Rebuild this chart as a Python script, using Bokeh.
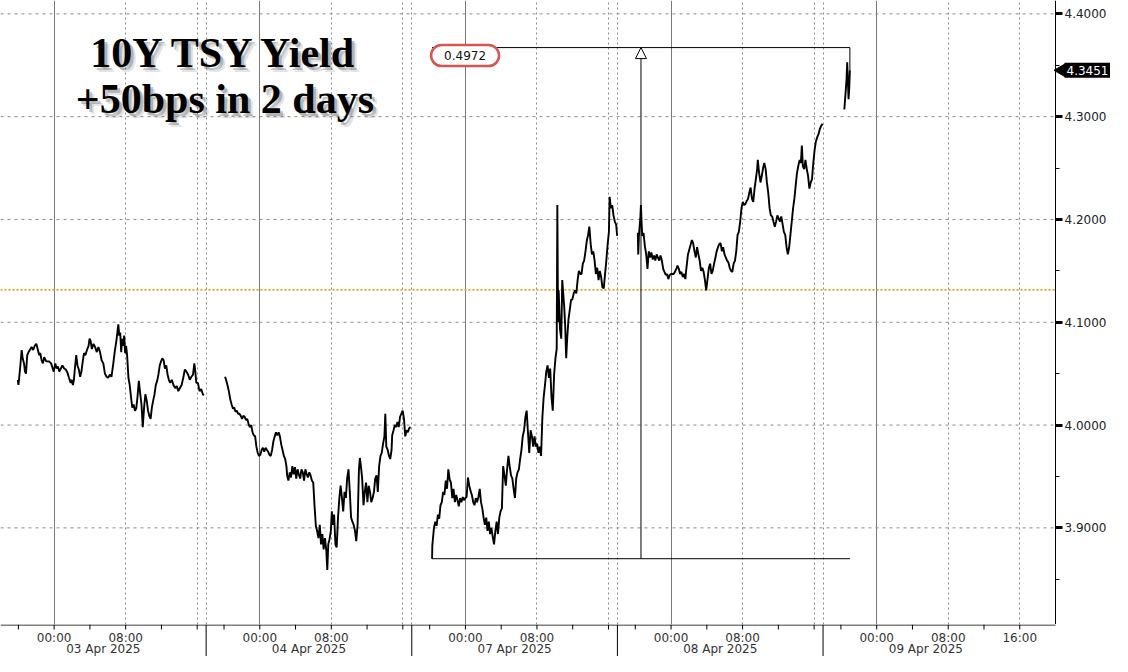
import math
from bokeh.plotting import figure
from bokeh.models import (Range1d, FixedTicker, PrintfTickFormatter, Grid, Label, Arrow, NormalHead)
from bokeh.layouts import column
from bokeh.embed import file_html
from bokeh.resources import INLINE
from bokeh.core.properties import value

# ---------------- data ----------------
session_dates = ["03 Apr 2025", "04 Apr 2025", "07 Apr 2025", "08 Apr 2025", "09 Apr 2025"]
session_len = 23          # each session: 18:00 (prior day) -> 17:00
tick_clock = ["00:00", "08:00", "16:00"]
tick_offset = [6, 14, 22]  # hours after the 18:00 open
x_end = 118.0              # hours of session-time shown

# (hours after session open, yield %)
s_0403 = [(1.93,4.044),(2.01,4.039),(2.19,4.055),(2.37,4.073),(2.48,4.065),(2.63,4.060),(2.74,4.052),(2.85,4.050),(2.99,4.068),(3.14,4.071),(3.28,4.073),(3.47,4.076),(3.65,4.073),(3.83,4.077),(4.01,4.079),(4.16,4.074),(4.31,4.068),(4.45,4.070),(4.60,4.063),(4.74,4.060),(4.89,4.066),(5.11,4.062),(5.40,4.062),(5.66,4.060),(5.84,4.055),(5.95,4.052),(6.13,4.060),(6.28,4.055),(6.42,4.057),(6.57,4.052),(6.75,4.055),(6.93,4.058),(7.12,4.055),(7.30,4.054),(7.48,4.051),(7.66,4.046),(7.85,4.041),(7.96,4.044),(8.10,4.039),(8.21,4.044),(8.32,4.055),(8.47,4.068),(8.61,4.058),(8.76,4.054),(8.91,4.047),(9.05,4.052),(9.20,4.062),(9.34,4.070),(9.49,4.068),(9.67,4.073),(9.85,4.077),(9.96,4.084),(10.07,4.082),(10.22,4.074),(10.40,4.079),(10.58,4.076),(10.77,4.071),(10.95,4.076),(11.13,4.071),(11.31,4.063),(11.50,4.060),(11.68,4.050),(11.86,4.047),(12.04,4.046),(12.23,4.049),(12.41,4.047),(12.59,4.058),(12.77,4.071),(12.96,4.082),(13.07,4.090),(13.18,4.098),(13.28,4.087),(13.39,4.090),(13.50,4.071),(13.61,4.084),(13.72,4.077),(13.83,4.087),(13.94,4.070),(14.05,4.077),(14.16,4.068),(14.31,4.046),(14.45,4.039),(14.60,4.027),(14.74,4.017),(14.89,4.020),(15.04,4.014),(15.18,4.016),(15.33,4.028),(15.47,4.043),(15.62,4.031),(15.77,4.020),(15.91,3.998),(16.06,4.017),(16.20,4.030),(16.35,4.024),(16.50,4.014),(16.64,4.009),(16.79,4.006),(16.93,4.017),(17.08,4.024),(17.23,4.030),(17.37,4.039),(17.52,4.043),(17.66,4.049),(17.81,4.058),(17.96,4.062),(18.10,4.065),(18.25,4.063),(18.39,4.055),(18.54,4.058),(18.69,4.049),(18.83,4.044),(18.98,4.041),(19.16,4.044),(19.34,4.039),(19.53,4.036),(19.71,4.038),(19.89,4.033),(20.07,4.036),(20.26,4.039),(20.44,4.046),(20.62,4.054),(20.80,4.052),(20.99,4.049),(21.17,4.044),(21.35,4.047),(21.53,4.049),(21.68,4.060),(21.79,4.052),(21.90,4.041),(22.08,4.041),(22.26,4.033),(22.45,4.035),(22.63,4.030),(22.74,4.029)]

s_0404 = [(2.12,4.047),(2.26,4.043),(2.41,4.038),(2.56,4.032),(2.70,4.025),(2.85,4.020),(3.00,4.016),(3.14,4.017),(3.29,4.013),(3.43,4.014),(3.58,4.011),(3.72,4.011),(3.87,4.009),(4.02,4.006),(4.16,4.009),(4.31,4.008),(4.45,4.005),(4.60,4.006),(4.75,4.001),(4.89,3.998),(5.04,4.000),(5.19,3.993),(5.33,3.990),(5.48,3.989),(5.62,3.979),(5.77,3.973),(5.92,3.970),(6.06,3.971),(6.21,3.976),(6.35,3.978),(6.50,3.974),(6.65,3.978),(6.79,3.976),(6.94,3.974),(7.08,3.971),(7.23,3.970),(7.38,3.976),(7.52,3.984),(7.67,3.989),(7.81,3.993),(7.96,3.990),(8.11,3.993),(8.25,3.989),(8.40,3.981),(8.54,3.976),(8.69,3.970),(8.84,3.967),(8.98,3.960),(9.06,3.951),(9.20,3.946),(9.35,3.954),(9.49,3.949),(9.64,3.960),(9.79,3.952),(9.93,3.959),(10.08,3.948),(10.22,3.957),(10.37,3.952),(10.52,3.948),(10.66,3.957),(10.81,3.954),(10.95,3.946),(11.10,3.957),(11.25,3.952),(11.39,3.949),(11.54,3.954),(11.68,3.951),(11.83,3.946),(11.98,3.944),(12.12,3.922),(12.27,3.902),(12.41,3.897),(12.56,3.890),(12.71,3.903),(12.85,3.884),(13.00,3.894),(13.14,3.879),(13.29,3.890),(13.44,3.878),(13.55,3.859),(13.66,3.884),(13.80,3.889),(13.95,3.897),(14.06,3.916),(14.17,3.903),(14.31,3.913),(14.46,3.884),(14.60,3.881),(14.75,3.910),(14.90,3.929),(15.04,3.941),(15.19,3.929),(15.33,3.916),(15.48,3.935),(15.63,3.929),(15.77,3.948),(15.92,3.957),(16.07,3.935),(16.21,3.910),(16.36,3.906),(16.50,3.903),(16.65,3.897),(16.79,3.887),(16.94,3.903),(17.09,3.957),(17.20,3.968),(17.31,3.960),(17.45,3.948),(17.60,3.922),(17.74,3.935),(17.89,3.944),(18.04,3.925),(18.18,3.941),(18.33,3.935),(18.47,3.925),(18.62,3.929),(18.77,3.935),(18.91,3.948),(19.06,3.951),(19.20,3.935),(19.35,3.960),(19.50,3.970),(19.64,3.973),(19.79,3.982),(19.94,3.989),(20.04,4.011),(20.15,3.979),(20.30,3.976),(20.45,3.970),(20.59,3.967),(20.74,3.976),(20.81,3.990),(20.96,3.995),(21.10,4.000),(21.25,3.998),(21.40,4.003),(21.54,3.998),(21.69,4.008),(21.83,4.011),(21.98,4.014),(22.13,4.006),(22.27,3.989),(22.42,3.995),(22.56,3.993),(22.71,3.997),(22.86,3.998)]

s_0407 = [(2.27,3.870),(2.30,3.883),(2.48,3.900),(2.63,3.906),(2.78,3.902),(2.92,3.913),(3.07,3.909),(3.21,3.922),(3.36,3.925),(3.51,3.935),(3.65,3.932),(3.80,3.946),(3.94,3.938),(4.09,3.957),(4.24,3.947),(4.38,3.944),(4.53,3.929),(4.67,3.938),(4.82,3.925),(4.97,3.932),(5.11,3.927),(5.26,3.921),(5.40,3.929),(5.55,3.925),(5.70,3.930),(5.84,3.927),(5.99,3.929),(6.13,3.930),(6.28,3.949),(6.43,3.941),(6.57,3.936),(6.72,3.932),(6.87,3.925),(7.01,3.922),(7.16,3.929),(7.30,3.925),(7.45,3.930),(7.60,3.938),(7.74,3.925),(7.89,3.919),(8.03,3.910),(8.18,3.903),(8.33,3.910),(8.47,3.897),(8.62,3.906),(8.76,3.894),(8.91,3.900),(9.06,3.891),(9.20,3.884),(9.35,3.897),(9.49,3.906),(9.64,3.894),(9.79,3.910),(9.93,3.916),(10.08,3.919),(10.22,3.960),(10.37,3.951),(10.52,3.941),(10.66,3.957),(10.81,3.970),(10.95,3.960),(11.10,3.951),(11.25,3.948),(11.39,3.938),(11.54,3.929),(11.68,3.948),(11.83,3.954),(11.98,3.957),(12.12,3.967),(12.27,3.976),(12.41,3.989),(12.56,3.995),(12.71,4.008),(12.85,4.014),(13.00,3.992),(13.14,3.973),(13.29,3.995),(13.44,3.989),(13.58,3.979),(13.73,3.989),(13.88,3.979),(14.02,3.982),(14.17,3.973),(14.31,3.979),(14.46,3.970),(14.61,4.008),(14.75,4.027),(14.90,4.039),(15.04,4.052),(15.19,4.058),(15.34,4.046),(15.48,4.055),(15.63,4.027),(15.77,4.014),(15.92,4.049),(16.07,4.065),(16.21,4.074),(16.28,4.214),(16.36,4.100),(16.43,4.131),(16.58,4.093),(16.72,4.084),(16.83,4.141),(16.94,4.128),(17.05,4.115),(17.16,4.096),(17.27,4.065),(17.38,4.084),(17.53,4.103),(17.67,4.112),(17.82,4.122),(17.96,4.122),(18.11,4.128),(18.26,4.131),(18.40,4.128),(18.55,4.141),(18.69,4.150),(18.84,4.147),(18.99,4.147),(19.13,4.157),(19.28,4.160),(19.43,4.169),(19.57,4.179),(19.72,4.185),(19.86,4.193),(20.01,4.176),(20.15,4.166),(20.30,4.169),(20.45,4.160),(20.59,4.147),(20.74,4.153),(20.89,4.141),(21.03,4.150),(21.18,4.144),(21.32,4.134),(21.47,4.133),(21.62,4.147),(21.76,4.160),(21.91,4.176),(22.05,4.188),(22.13,4.222),(22.27,4.211),(22.42,4.214),(22.56,4.204),(22.71,4.198),(22.86,4.195),(22.97,4.184)]

s_0408 = [(2.28,4.187),(2.33,4.166),(2.41,4.185),(2.56,4.201),(2.63,4.214),(2.71,4.195),(2.78,4.184),(2.92,4.187),(3.07,4.174),(3.22,4.166),(3.36,4.152),(3.51,4.169),(3.66,4.163),(3.80,4.168),(3.95,4.161),(4.09,4.165),(4.24,4.160),(4.39,4.166),(4.53,4.163),(4.68,4.160),(4.82,4.165),(4.97,4.160),(5.12,4.152),(5.26,4.149),(5.41,4.146),(5.55,4.147),(5.70,4.142),(5.85,4.146),(5.99,4.147),(6.14,4.147),(6.28,4.147),(6.43,4.149),(6.58,4.152),(6.72,4.155),(6.87,4.152),(7.01,4.147),(7.16,4.149),(7.31,4.144),(7.45,4.147),(7.60,4.142),(7.67,4.149),(7.89,4.166),(8.11,4.173),(8.33,4.180),(8.47,4.177),(8.62,4.169),(8.77,4.163),(8.91,4.173),(9.06,4.166),(9.20,4.160),(9.35,4.150),(9.50,4.153),(9.64,4.149),(9.79,4.141),(9.93,4.131),(10.08,4.142),(10.23,4.153),(10.37,4.157),(10.52,4.147),(10.66,4.150),(10.81,4.157),(10.96,4.163),(11.10,4.169),(11.25,4.173),(11.39,4.176),(11.54,4.177),(11.69,4.169),(11.83,4.173),(11.98,4.166),(12.12,4.163),(12.27,4.160),(12.42,4.158),(12.56,4.153),(12.71,4.150),(12.85,4.149),(13.00,4.157),(13.15,4.160),(13.29,4.169),(13.44,4.185),(13.58,4.188),(13.73,4.198),(13.88,4.211),(14.02,4.217),(14.17,4.214),(14.31,4.215),(14.46,4.218),(14.61,4.220),(14.75,4.226),(14.90,4.231),(15.05,4.220),(15.19,4.217),(15.34,4.230),(15.48,4.239),(15.63,4.249),(15.70,4.258),(15.85,4.245),(16.00,4.236),(16.14,4.242),(16.29,4.250),(16.43,4.255),(16.58,4.249),(16.72,4.236),(16.87,4.226),(17.02,4.211),(17.16,4.204),(17.31,4.203),(17.45,4.198),(17.60,4.193),(17.75,4.198),(17.89,4.204),(18.04,4.201),(18.18,4.198),(18.33,4.203),(18.48,4.195),(18.62,4.188),(18.77,4.185),(18.92,4.173),(19.06,4.166),(19.21,4.173),(19.35,4.185),(19.50,4.198),(19.65,4.211),(19.79,4.220),(19.94,4.233),(20.08,4.245),(20.23,4.252),(20.38,4.258),(20.52,4.255),(20.63,4.272),(20.74,4.252),(20.89,4.249),(21.03,4.258),(21.18,4.249),(21.33,4.242),(21.47,4.230),(21.62,4.236),(21.76,4.239),(21.91,4.255),(22.06,4.268),(22.20,4.276),(22.35,4.280),(22.49,4.283),(22.64,4.288),(22.79,4.291),(22.95,4.293)]

s_0409 = [(2.38,4.307),(2.56,4.328),(2.63,4.337),(2.70,4.353),(2.78,4.334),(2.85,4.317),(2.93,4.328),(3.00,4.3451)]

sessions = [s_0403, s_0404, s_0407, s_0408, s_0409]

ref_level = 4.1315         # orange dotted reference line
measure_from = 3.8700      # measurement tool start level (07 Apr open)
measure_change = 0.4972    # measured move
y_ticks = [3.9, 4.0, 4.1, 4.2, 4.3, 4.4]
y_minor = [3.85, 3.95, 4.05, 4.15, 4.25, 4.35]
y_lo, y_hi = 3.806, 4.413

# ---------------- layout constants ----------------
FW, FH, SH = 1110, 624, 32      # frame also holds the right-hand price scale
x_view = 124.15                 # data width incl. the price-scale column
GRID = "#8a8a8a"
FONT = "DejaVu Sans"
px_per_hr = FW / x_view

# session-time positions
starts = [k * session_len for k in range(len(session_dates))]
bounds = starts[1:]
midnights = [s + tick_offset[0] for s in starts]
dashed = starts + [s + o for s in starts for o in tick_offset[1:]]
minor_x = [s + o for s in starts for o in range(2, session_len, 4)]

p = figure(frame_width=FW, frame_height=FH, x_range=Range1d(0, x_view), y_range=Range1d(y_lo, y_hi),
           x_axis_location=None, y_axis_location="right", toolbar_location=None,
           output_backend="svg", min_border_left=0, min_border_top=0, min_border_bottom=0,
           min_border_right=0, outline_line_color=None, background_fill_color="white",
           border_fill_color="white")

# right price axis, pinned at the end of the time scale
ya = p.yaxis[0]
ya.fixed_location = x_end
ya.ticker = FixedTicker(ticks=y_ticks, minor_ticks=y_minor)
ya.formatter = PrintfTickFormatter(format="%.4f")
ya.major_label_text_font = FONT
ya.major_label_text_font_size = "12px"
ya.major_label_text_color = "#222222"
ya.major_label_standoff = 2
ya.major_tick_out, ya.major_tick_in = 7, 0
ya.major_tick_line_width = 3
ya.minor_tick_out, ya.minor_tick_in = 4, 0
ya.axis_line_color = "black"

# grids
p.xgrid.ticker = FixedTicker(ticks=dashed)
p.xgrid.grid_line_color = GRID
p.xgrid.grid_line_dash = "2 3"
p.ygrid.visible = False
p.add_layout(Grid(dimension=0, ticker=FixedTicker(ticks=midnights), grid_line_color="#7a7a7a",
                  grid_line_width=1))
p.segment(x0=0, x1=x_end, y0=y_ticks, y1=y_ticks, line_color=GRID, line_dash="3 4", line_width=1)
p.segment(x0=0, x1=x_end, y0=ref_level, y1=ref_level, line_color="#E3A224",
          line_dash="2 2", line_width=1.6)

# series
for s0, data in zip(starts, sessions):
    p.line([s0 + h for h, _ in data], [v for _, v in data], line_color="black", line_width=1.9)

# measurement tool
m_left = starts[2] + s_0407[0][0]
m_right = starts[4] + s_0409[-1][0]
m_top = measure_from + measure_change
last_val = s_0409[-1][1]
p.line([m_left, m_right], [measure_from, measure_from], line_color="black", line_width=1)
p.line([m_left, m_right, m_right], [m_top, m_top, last_val], line_color="black", line_width=1)
m_mid = (m_left + m_right) / 2
p.add_layout(Arrow(end=NormalHead(size=11, fill_color="white", line_color="black", line_width=1),
                   x_start=m_mid, y_start=measure_from, x_end=m_mid, y_end=m_top,
                   line_color="black", line_width=1))
p.add_layout(Label(x=m_left, y=m_top, x_offset=33, y_offset=-8, text=f"{measure_change:.4f}",
                   text_font=FONT, text_font_size="12px", text_color="#111111",
                   text_align="center", text_baseline="middle",
                   background_fill_color="white", border_line_color="#D9534F",
                   border_line_width=2.5, border_radius=11,
                   padding=dict(left=13, right=13, top=6, bottom=6)))

# last value tag on the price scale
p.scatter(x=[x_end + 6 / px_per_hr], y=[last_val], marker="triangle", angle=math.pi / 2,
          size=13, fill_color="black", line_color="black")
p.add_layout(Label(x=x_end, y=last_val, x_offset=9, text=f"{last_val:.4f}", text_font=FONT,
                   text_font_size="12px", text_color="white", text_align="left",
                   text_baseline="middle", background_fill_color="black",
                   padding=dict(left=2, right=3, top=3, bottom=3)))

# title with soft shadow
title_lines = ["10Y TSY Yield", "+50bps in 2 days"]
title_y = [4.3624, 4.3167]
title_x = 25.1
for (dx, dy, a) in [(5, -5, 0.18), (3, -3, 0.35)]:
    for t, ty in zip(title_lines, title_y):
        p.add_layout(Label(x=title_x, y=ty, x_offset=dx, y_offset=dy, text=t,
                           text_font="Liberation Serif", text_font_style="bold",
                           text_font_size="42px", text_align="center", text_baseline="alphabetic",
                           text_color="#555555", text_alpha=a))
for t, ty in zip(title_lines, title_y):
    p.add_layout(Label(x=title_x, y=ty, text=t, text_font="Liberation Serif", text_font_style="bold",
                       text_font_size="42px", text_align="center", text_baseline="alphabetic",
                       text_color="black"))

# ---------------- time axis strip (axis line, ticks, separators, labels) ----------------
strip = figure(frame_width=FW, frame_height=SH, x_range=p.x_range, y_range=Range1d(0, SH),
               x_axis_location=None, y_axis_location=None, toolbar_location=None,
               output_backend="svg", min_border_left=0, min_border_right=0, min_border_top=0,
               min_border_bottom=0, outline_line_color=None, background_fill_color="white",
               border_fill_color="white")
strip.grid.visible = False

strip.segment(x0=0, y0=SH - 0.5, x1=x_end, y1=SH - 0.5, line_color="black", line_width=1)
strip.segment(x0=minor_x, y0=SH - 5, x1=minor_x, y1=SH, line_color="black", line_width=1)
strip.segment(x0=bounds, y0=0, x1=bounds, y1=SH, line_color="black", line_width=1)

t_x, t_lab = [], []
for k, s0 in enumerate(starts):
    n = 3 if k == len(starts) - 1 else 2
    for lab, off in list(zip(tick_clock, tick_offset))[:n]:
        t_x.append(s0 + off)
        t_lab.append(lab)
strip.text(x=t_x, y=SH - 13, text=t_lab, text_font=value(FONT), text_font_size="12px",
           text_align="center", text_baseline="middle", text_color="#333333")
strip.text(x=[s + session_len / 2 for s in starts], y=0.5, text=session_dates,
           text_font=value(FONT), text_font_size="12px", text_align="center",
           text_baseline="bottom", text_color="#333333")

layout = column(p, strip, spacing=0)
open("out.html", "w").write(file_html(layout, INLINE))
